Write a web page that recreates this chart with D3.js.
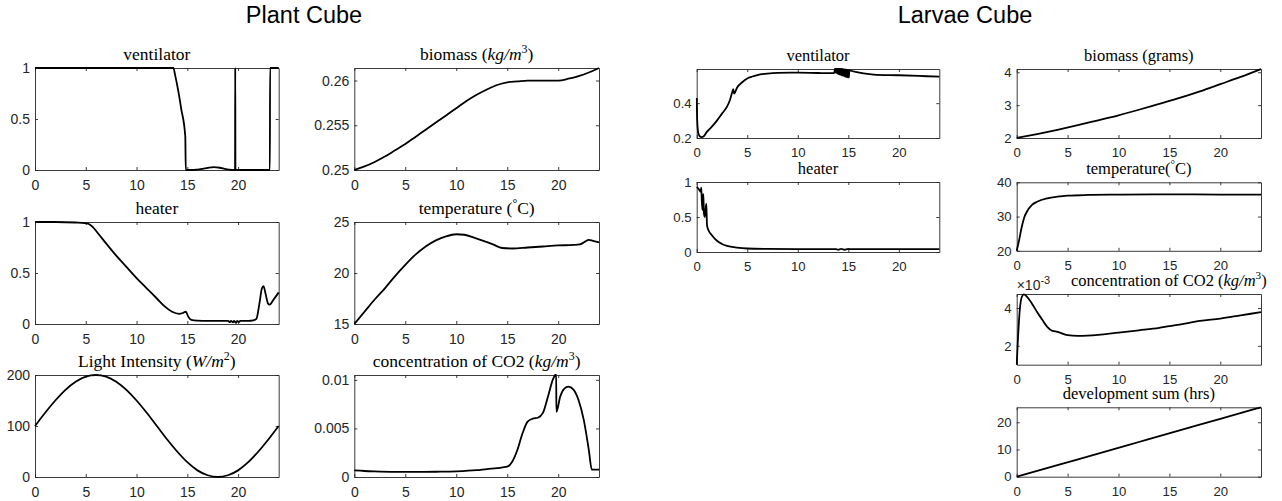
<!DOCTYPE html>
<html>
<head>
<meta charset="utf-8">
<script src="https://cdn.jsdelivr.net/npm/d3@7"></script>
<style>
  body { margin: 0; background: #fff; }
  svg { display: block; }
</style>
</head>
<body>
<script>
const width = 1282;
const height = 501;

const sans = '"Liberation Sans", Arial, Helvetica, sans-serif';
const serif = '"Liberation Serif", "Times New Roman", serif';
const axisColor = '#262626';

// hours on every x axis
const xDomain = [0, 24];
const xTicks = [0, 5, 10, 15, 20];

// Plant cube, [hour, value]
const plantVentilator = [
  [0, 1], [13.63, 1], [13.8, 0.93], [14.1, 0.78], [14.4, 0.6], [14.8, 0.33], [14.85, 0],
  [15.5, 0], [16, 0.004], [16.5, 0.01], [17, 0.02], [17.6, 0.028], [18.2, 0.022], [18.8, 0.008],
  [19.4, 0.001], [19.7, 0], [19.72, 1], [19.74, 0], [23.13, 0], [23.15, 1], [24, 1],
];
const plantHeater = [
  [0, 1], [2, 1], [4, 0.995], [4.9, 0.99], [5.3, 0.98], [5.7, 0.95], [6.2, 0.89], [7, 0.79],
  [8, 0.67], [9, 0.56], [10, 0.45], [11, 0.35], [12, 0.25], [12.8, 0.17], [13.5, 0.12],
  [14.2, 0.1], [14.6, 0.11], [14.85, 0.12], [15.1, 0.07], [15.4, 0.04], [16, 0.033], [17, 0.03],
  [18, 0.03], [19, 0.031], [19.2, 0.018], [19.3, 0.03], [19.5, 0.015], [19.6, 0.03], [19.8, 0.012],
  [19.9, 0.03], [20.1, 0.02], [20.2, 0.03], [21, 0.03], [21.5, 0.035], [21.8, 0.05], [22.1, 0.2],
  [22.35, 0.35], [22.5, 0.37], [22.7, 0.3], [22.95, 0.2], [23.1, 0.19], [23.5, 0.24], [24, 0.31],
];
const plantLight = [
  [0, 100], [1, 126], [2, 150], [3, 171], [4, 187], [5, 197], [6, 200], [7, 197], [8, 187],
  [9, 171], [10, 150], [11, 126], [12, 100], [13, 74], [14, 50], [15, 29], [16, 13], [17, 3.4],
  [18, 0], [19, 3.4], [20, 13], [21, 29], [22, 50], [23, 74], [24, 100],
];
const plantBiomass = [
  [0, 0.25], [1, 0.2504], [2, 0.2509], [3, 0.2515], [4, 0.2522], [5, 0.2529], [6, 0.2537],
  [7, 0.2545], [8, 0.2553], [9, 0.2561], [10, 0.2569], [11, 0.2577], [12, 0.2584], [13, 0.259],
  [14, 0.2595], [15, 0.2598], [16, 0.2599], [17, 0.26], [18, 0.26], [19, 0.26], [20, 0.26],
  [21, 0.2602], [22, 0.2605], [23, 0.2609], [24, 0.2614],
];
const plantTemperature = [
  [0, 15], [1, 16.2], [2, 17.4], [3, 18.5], [4, 19.7], [5, 20.8], [6, 21.8], [7, 22.6],
  [8, 23.2], [9, 23.6], [10, 23.8], [10.8, 23.75], [11.8, 23.45], [12.8, 23.1], [13.6, 22.8],
  [14.5, 22.45], [15.5, 22.4], [17, 22.5], [18.5, 22.6], [20, 22.7], [21.5, 22.75], [22.1, 22.8],
  [22.6, 23.05], [23, 23.25], [23.4, 23.15], [24, 23.0],
];
const plantCO2 = [
  [0, 0.00068], [1, 0.00062], [2, 0.00058], [4, 0.00053], [6, 0.00052], [8, 0.00054],
  [10, 0.00058], [12, 0.0007], [13, 0.00082], [14, 0.00092], [15, 0.00106], [15.5, 0.0016],
  [16, 0.0028], [16.5, 0.0045], [17, 0.0057], [17.5, 0.006], [18, 0.0061], [18.5, 0.0066],
  [19, 0.0083], [19.5, 0.0101], [19.8, 0.0106], [19.82, 0.0067], [20.2, 0.0083], [20.6, 0.0091],
  [21, 0.0093], [21.5, 0.009], [22, 0.0079], [22.5, 0.0059], [23, 0.0028], [23.3, 0.00075],
  [24, 0.00075],
];

// Larvae cube, [hour, value]
const larvaeVentilator = [
  [0, 0.43], [0.05, 0.3], [0.15, 0.23], [0.3, 0.21], [0.5, 0.205], [0.7, 0.21], [1, 0.235],
  [1.5, 0.265], [2, 0.3], [2.5, 0.34], [3, 0.38], [3.3, 0.42], [3.55, 0.47], [3.62, 0.48],
  [3.7, 0.455], [4, 0.49], [4.5, 0.52], [5, 0.542], [5.5, 0.553], [6, 0.561], [7, 0.57],
  [8, 0.574], [10, 0.575], [12, 0.573], [13.6, 0.572],
  [13.7, 0.6], [13.75, 0.575], [13.8, 0.6], [13.85, 0.572], [13.9, 0.6], [13.95, 0.57],
  [14.0, 0.6], [14.05, 0.567], [14.1, 0.6], [14.15, 0.565], [14.2, 0.598], [14.25, 0.562],
  [14.3, 0.597], [14.35, 0.56], [14.4, 0.596], [14.45, 0.558], [14.5, 0.595], [14.55, 0.556],
  [14.6, 0.594], [14.65, 0.554], [14.7, 0.593], [14.75, 0.552], [14.8, 0.592], [14.85, 0.55],
  [14.9, 0.591], [14.95, 0.548], [15.0, 0.59], [15.05, 0.547], [15.1, 0.588],
  [15.5, 0.582], [16.5, 0.571], [17.5, 0.564], [20, 0.56], [22, 0.556], [24, 0.552],
];
const larvaeHeater = [
  [0, 0.93], [0.2, 0.9], [0.4, 0.86], [0.45, 0.92], [0.5, 0.75], [0.57, 0.6], [0.65, 0.83],
  [0.72, 0.55], [0.8, 0.5], [0.95, 0.69], [1.02, 0.38], [1.2, 0.3], [1.5, 0.24], [2, 0.16],
  [2.5, 0.115], [3, 0.087], [4, 0.062], [5, 0.05], [7, 0.044], [10, 0.041], [13.8, 0.04],
  [14, 0.032], [14.3, 0.046], [14.6, 0.032], [15, 0.044], [15.2, 0.04], [24, 0.04],
];
const larvaeBiomass = [
  [0, 2.0], [2, 2.12], [4, 2.25], [6, 2.39], [8, 2.54], [10, 2.69], [12, 2.86], [14, 3.04],
  [16, 3.22], [18, 3.42], [20, 3.64], [22, 3.86], [24, 4.1],
];
const larvaeTemperature = [
  [0, 20], [0.2, 22.6], [0.5, 27], [0.75, 29.8], [1, 31.4], [1.5, 33.4], [2, 34.3], [3, 35.3],
  [4, 35.8], [5, 36.1], [7, 36.3], [10, 36.4], [15, 36.5], [20, 36.4], [24, 36.4],
];
// in units of 1e-3 kg/m^3
const larvaeCO2 = [
  [0, 1.0], [0.1, 2.12], [0.3, 3.88], [0.5, 4.58], [0.7, 4.72], [1, 4.6], [1.5, 4.23],
  [2, 3.79], [2.5, 3.39], [3, 3.0], [3.5, 2.79], [4, 2.74], [5, 2.56], [6, 2.53], [8, 2.58],
  [10, 2.7], [12, 2.82], [14, 2.95], [15, 3.04], [16, 3.12], [18, 3.32], [20, 3.44],
  [22, 3.61], [24, 3.78],
];
const larvaeDevSum = [
  [0, 0], [4, 4.25], [8, 8.5], [12, 12.75], [16, 17], [20, 21.25], [24, 25.5],
];

const figureTitles = [
  { text: 'Plant Cube', x: 304 },
  { text: 'Larvae Cube', x: 965 },
];

// title pieces: i = italic, sup = superscript
const plant = { fs: 14, ts: 17.5, pad: 10 };
const larvae = { fs: 13.2, ts: 16.5, pad: 9.6 };

const panels = [
  { ...plant, x0: 35, x1: 278.7, y0: 68, h: 102, data: plantVentilator,
    title: [{ t: 'ventilator' }], yDomain: [0, 1], yTicks: [0, 0.5, 1] },
  { ...plant, x0: 35, x1: 278.7, y0: 222, h: 102, data: plantHeater,
    title: [{ t: 'heater' }], yDomain: [0, 1], yTicks: [0, 0.5, 1] },
  { ...plant, x0: 35, x1: 278.7, y0: 375, h: 102, data: plantLight,
    title: [{ t: 'Light Intensity (' }, { t: 'W/m', i: 1 }, { t: '2', sup: 1 }, { t: ')' }],
    yDomain: [0, 200], yTicks: [0, 100, 200] },
  { ...plant, x0: 354.3, x1: 599, y0: 68, h: 102, data: plantBiomass,
    title: [{ t: 'biomass (' }, { t: 'kg/m', i: 1 }, { t: '3', sup: 1 }, { t: ')' }],
    yDomain: [0.25, 0.2614], yTicks: [0.25, 0.255, 0.26] },
  { ...plant, x0: 354.3, x1: 599, y0: 222, h: 102, data: plantTemperature,
    title: [{ t: 'temperature (' }, { t: '°', sup: 1 }, { t: 'C)' }],
    yDomain: [15, 25], yTicks: [15, 20, 25] },
  { ...plant, x0: 354.3, x1: 599, y0: 375, h: 102, data: plantCO2,
    title: [{ t: 'concentration of CO2 (' }, { t: 'kg/m', i: 1 }, { t: '3', sup: 1 }, { t: ')' }],
    yDomain: [0, 0.0105], yTicks: [0, 0.005, 0.01] },

  { ...larvae, x0: 696.7, x1: 939.3, y0: 69, h: 69, data: larvaeVentilator,
    title: [{ t: 'ventilator' }], yDomain: [0.2, 0.596], yTicks: [0.2, 0.4] },
  { ...larvae, x0: 696.7, x1: 939.3, y0: 182, h: 70, data: larvaeHeater,
    title: [{ t: 'heater' }], yDomain: [0, 1], yTicks: [0, 0.5, 1] },
  { ...larvae, x0: 1016.7, x1: 1261, y0: 69, h: 69, data: larvaeBiomass,
    title: [{ t: 'biomass (grams)' }], yDomain: [2, 4.1], yTicks: [2, 3, 4] },
  { ...larvae, x0: 1016.7, x1: 1261, y0: 182.3, h: 68.5, data: larvaeTemperature,
    title: [{ t: 'temperature(' }, { t: '°', sup: 1 }, { t: 'C)' }],
    yDomain: [20, 40], yTicks: [20, 30, 40] },
  { ...larvae, x0: 1016.7, x1: 1261, y0: 294, h: 70.7, data: larvaeCO2,
    title: [{ t: 'concentration of CO2 (' }, { t: 'kg/m', i: 1 }, { t: '3', sup: 1 }, { t: ')' }],
    titleDx: 30, exponent: '-3', yDomain: [1, 4.74], yTicks: [2, 4] },
  { ...larvae, x0: 1016.7, x1: 1261, y0: 407.3, h: 69.4, data: larvaeDevSum,
    title: [{ t: 'development sum (hrs)' }], yDomain: [0, 25.5], yTicks: [0, 10, 20] },
];

const svg = d3.select('body')
  .append('svg')
  .attr('width', width)
  .attr('height', height)
  .style('background', '#fff');

svg.selectAll('text.fig-title')
  .data(figureTitles)
  .join('text')
    .attr('class', 'fig-title')
    .attr('x', d => d.x)
    .attr('y', 22.5)
    .attr('text-anchor', 'middle')
    .style('font', `23.5px ${sans}`)
    .attr('fill', '#000')
    .text(d => d.text);

function styleAxis(g, p) {
  g.select('.domain').attr('stroke', axisColor).attr('stroke-width', 0.9);
  g.selectAll('.tick line').attr('stroke', axisColor).attr('stroke-width', 0.9);
  g.selectAll('.tick text')
    .attr('fill', axisColor)
    .style('font-family', sans)
    .style('font-size', `${p.fs}px`);
  g.attr('font-family', null).attr('font-size', null);
}

panels.forEach((p, i) => {
  const x = d3.scaleLinear().domain(xDomain).range([p.x0, p.x1]);
  const y = d3.scaleLinear().domain(p.yDomain).range([p.y0 + p.h, p.y0]);
  const g = svg.append('g');

  g.append('clipPath')
    .attr('id', `clip${i}`)
    .append('rect')
      .attr('x', p.x0 - 1)
      .attr('y', p.y0 - 1)
      .attr('width', p.x1 - p.x0 + 2)
      .attr('height', p.h + 2);

  g.append('g')
    .attr('transform', `translate(0,${p.y0 + p.h})`)
    .call(d3.axisBottom(x).tickValues(xTicks).tickSizeInner(-3).tickSizeOuter(0).tickPadding(p.pad))
    .call(s => styleAxis(s, p));
  g.append('g')
    .attr('transform', `translate(0,${p.y0})`)
    .call(d3.axisTop(x).tickValues(xTicks).tickFormat('').tickSizeInner(-3).tickSizeOuter(0))
    .call(s => styleAxis(s, p));
  g.append('g')
    .attr('transform', `translate(${p.x0},0)`)
    .call(d3.axisLeft(y).tickValues(p.yTicks).tickFormat(d => String(d))
      .tickSizeInner(-3).tickSizeOuter(0).tickPadding(5))
    .call(s => styleAxis(s, p));
  g.append('g')
    .attr('transform', `translate(${p.x1},0)`)
    .call(d3.axisRight(y).tickValues(p.yTicks).tickFormat('').tickSizeInner(-3).tickSizeOuter(0))
    .call(s => styleAxis(s, p));

  g.append('path')
    .datum(p.data)
    .attr('clip-path', `url(#clip${i})`)
    .attr('fill', 'none')
    .attr('stroke', '#000')
    .attr('stroke-width', 1.8)
    .attr('stroke-linejoin', 'round')
    .attr('d', d3.line()
      .x(d => x(d[0]))
      .y(d => y(d[1]))
      .curve(d3.curveMonotoneX));

  const title = g.append('text')
    .attr('x', (p.x0 + p.x1) / 2 + (p.titleDx || 0))
    .attr('y', p.y0 - 8)
    .attr('text-anchor', 'middle')
    .attr('fill', '#000')
    .style('font-family', serif)
    .style('font-size', `${p.ts}px`);
  let raised = false;
  p.title.forEach(s => {
    const span = title.append('tspan').text(s.t);
    if (s.i) span.style('font-style', 'italic');
    if (s.sup) {
      span.attr('dy', -p.ts * 0.4).style('font-size', `${p.ts * 0.68}px`);
      raised = true;
    } else if (raised) {
      span.attr('dy', p.ts * 0.4);
      raised = false;
    }
  });

  if (p.exponent) {
    const ex = g.append('text')
      .attr('x', p.x0)
      .attr('y', p.y0 - 4)
      .attr('fill', axisColor)
      .style('font-family', sans)
      .style('font-size', '14px');
    ex.append('tspan').text('×10');
    ex.append('tspan')
      .attr('dy', -6)
      .style('font-size', '11px')
      .text(p.exponent);
  }
});
</script>
</body>
</html>
